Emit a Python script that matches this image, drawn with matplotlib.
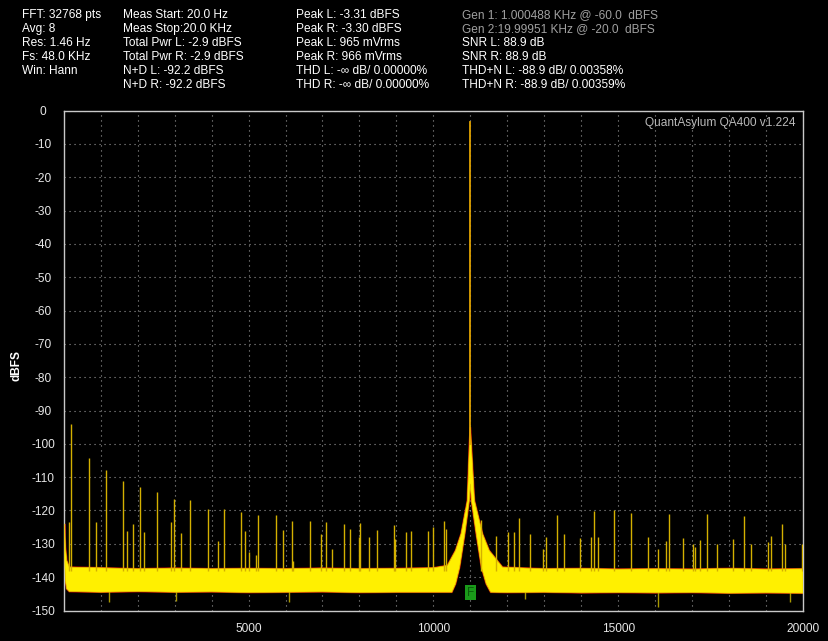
import numpy as np
import matplotlib
matplotlib.use("Agg")
import matplotlib.pyplot as plt

plt.rcParams['font.family'] = ['Liberation Sans', 'DejaVu Sans']
plt.rcParams['axes.unicode_minus'] = False

# fundamental
fund_freq = 11000
fund_level = -3.3
marker_level = -144.6

# harmonic / spurious lines (Hz, dBFS)
spur_freqs = [136, 209, 678, 859, 1130, 1607, 1699, 1883, 2051, 2168,
              2520, 2892, 2973, 3165, 3420, 3894, 4182, 4341, 4808, 4913,
              5014, 5211, 5257, 5737, 5929, 6171, 6214, 6653, 6951, 7100,
              7244, 7569, 7742, 7976, 8013, 8260, 8488, 8929, 8970, 9260,
              9404, 9851, 10000, 10279, 10344, 11292, 11699, 12013, 12168, 12312,
              12620, 12962, 13054, 13333, 13531, 13975, 14273, 14344, 14452, 14897,
              15358, 15818, 16078, 16287, 16368, 16740, 17011, 17073, 17209, 17390,
              17661, 18111, 18401, 18583, 19059, 19124, 19423, 19512, 19965]
spur_levels = [-123.5, -94, -104.3, -123.5, -107.8, -111.3, -126, -124, -113, -126.3,
               -114.5, -123.5, -116.4, -126.6, -117, -119.5, -129.2, -119.5, -120.5, -126,
               -132.5, -133.3, -121.2, -121.4, -125.8, -123.1, -135, -123, -127, -123.5,
               -131.6, -124, -125.6, -128, -123.6, -128, -125.9, -124.4, -128.5, -126.5,
               -126.2, -126, -125, -123.2, -125.4, -122.7, -127.5, -126.5, -126.5, -122.3,
               -127, -131.5, -128, -121.2, -127, -128.2, -128, -120.2, -128, -120,
               -120.7, -128, -131.5, -129, -121, -128.3, -130, -131, -128.8, -121,
               -130, -128.5, -121.5, -130, -129.5, -127.5, -124, -130, -130]

# noise floor envelope, upper edge
upper_f = [20, 45, 80, 150, 1000, 2000, 3000, 4000, 5000, 6000, 7000, 8000, 9000,
           10000, 10380, 10600, 10750, 10920, 10975, 11000, 11025,
           11110, 11330, 11510, 11870, 13000, 14000, 15000, 16000, 17000, 18000,
           19000, 20000]
upper_db = [-124, -131, -135, -137, -137.2, -137.5, -137.3, -137.5, -137.4, -137.5,
            -137.3, -137.5, -137.4, -137.2, -136.5, -132, -127, -117, -100, -95,
            -100, -117, -127, -132, -137, -137.5, -137.4, -137.6,
            -137.5, -137.6, -137.4, -137.6, -137.5]

# noise floor envelope, lower edge
lower_f = [20, 45, 80, 150, 1000, 2000, 3000, 4000, 5000, 6000, 7000, 8000, 9000,
           10000, 10500, 10600, 10710, 10850, 10970, 11000, 11030, 11160, 11300,
           11430, 11550, 12000, 13000, 14000, 15000, 16000, 17000, 18000, 19000, 20000]
lower_db = [-133, -141, -143.5, -144.3, -144.5, -144.3, -144.5, -144.4, -144.6, -144.5,
            -144.4, -144.6, -144.5, -144.5, -144.5, -142, -137, -127, -117, -112,
            -117, -127, -137, -142, -144.5, -144.6, -144.5, -144.7, -144.6, -144.7,
            -144.6, -144.8, -144.7, -144.8]

# deepest downward noise spikes
dip_freqs = [1220, 3027, 6100, 12470, 16080, 19650]
dip_levels = [-147.5, -147, -147.5, -146.4, -148.8, -147.5]

col1 = ["FFT: 32768 pts", "Avg: 8", "Res: 1.46 Hz", "Fs: 48.0 KHz", "Win: Hann"]
col2 = ["Meas Start: 20.0 Hz", "Meas Stop:20.0 KHz", "Total Pwr L: -2.9 dBFS",
        "Total Pwr R: -2.9 dBFS", "N+D L: -92.2 dBFS", "N+D R: -92.2 dBFS"]
col3 = ["Peak L: -3.31 dBFS", "Peak R: -3.30 dBFS", "Peak L: 965 mVrms",
        "Peak R: 966 mVrms", "THD L: -\u221e dB/ 0.00000%", "THD R: -\u221e dB/ 0.00000%"]
col4 = ["Gen 1: 1.000488 KHz @ -60.0  dBFS", "Gen 2:19.99951 KHz @ -20.0  dBFS",
        "SNR L: 88.9 dB", "SNR R: 88.9 dB", "THD+N L: -88.9 dB/ 0.00358%",
        "THD+N R: -88.9 dB/ 0.00359%"]

W, H = 829, 641
fig = plt.figure(figsize=(W / 100, H / 100), dpi=100, facecolor='black')
ax = fig.add_axes([64.5 / W, 1 - 610.5 / H, 738.5 / W, 500 / H], facecolor='black')

# noise band: thin red fringe under the yellow body
poly_f = upper_f + lower_f[::-1]
poly_db = upper_db + lower_db[::-1]
ax.fill(poly_f, poly_db, facecolor='#c81000', edgecolor='#b81000', lw=1.3, zorder=2)
ax.fill(poly_f, poly_db, facecolor='#fff000', edgecolor='#e8c800', lw=0.5, zorder=3)

# spurs
ax.vlines(spur_freqs, -138, spur_levels, colors='#d4b000', lw=1.0, zorder=4)
ax.vlines(dip_freqs, dip_levels, -144, colors='#a89800', lw=1.0, zorder=2)

# fundamental line
ax.plot([fund_freq, fund_freq], [fund_level, -100], color='#e0a200', lw=1.3, zorder=5)

ax.text(fund_freq, marker_level, "F", color='#0a5a0a', fontsize=8.5, ha='center',
        va='center', zorder=6,
        bbox=dict(boxstyle='square,pad=0.15', facecolor='#1a9a1a', edgecolor='none'))

ax.set_xlim(20, 20000)
ax.set_ylim(-150, 0)
ax.set_xticks([5000, 10000, 15000, 20000])
ax.set_xticks(np.arange(1000, 20000, 1000), minor=True)
ax.set_yticks(np.arange(-150, 1, 10))
ax.tick_params(which='both', length=0, colors='#e6e6e6', labelsize=8.6)
ax.tick_params(axis='x', pad=9)
ax.tick_params(axis='y', pad=15.5)
for lbl in ax.get_yticklabels():
    lbl.set_horizontalalignment('center')
ax.grid(which='both', color='#9a9a9a', linestyle=(0, (1, 3.5)), lw=0.8, zorder=1)
ax.set_axisbelow(True)
for s in ax.spines.values():
    s.set_color('#c8c8c8')
    s.set_linewidth(1.0)

ax.set_ylabel("dBFS", color='white', fontsize=8.6, fontweight='bold')
ax.yaxis.set_label_coords(-0.057, 0.49)

ax.text(0.99, 0.975, "QuantAsylum QA400 v1.224", transform=ax.transAxes, ha='right',
        va='center', color='#b8b8b8', fontsize=8.6)

rows = [15, 29.3, 43, 57, 71, 85]
for xs, lines in [(22, col1), (123, col2), (296, col3)]:
    for i, t in enumerate(lines):
        fig.text(xs / W, 1 - rows[i] / H, t, color='white', fontsize=8.6, va='center')
for i, t in enumerate(col4):
    c = '#a0a0a0' if i < 2 else 'white'
    fig.text(462 / W, 1 - rows[i] / H, t, color=c, fontsize=8.6, va='center')

fig.savefig("out.png", dpi=100, facecolor='black')
